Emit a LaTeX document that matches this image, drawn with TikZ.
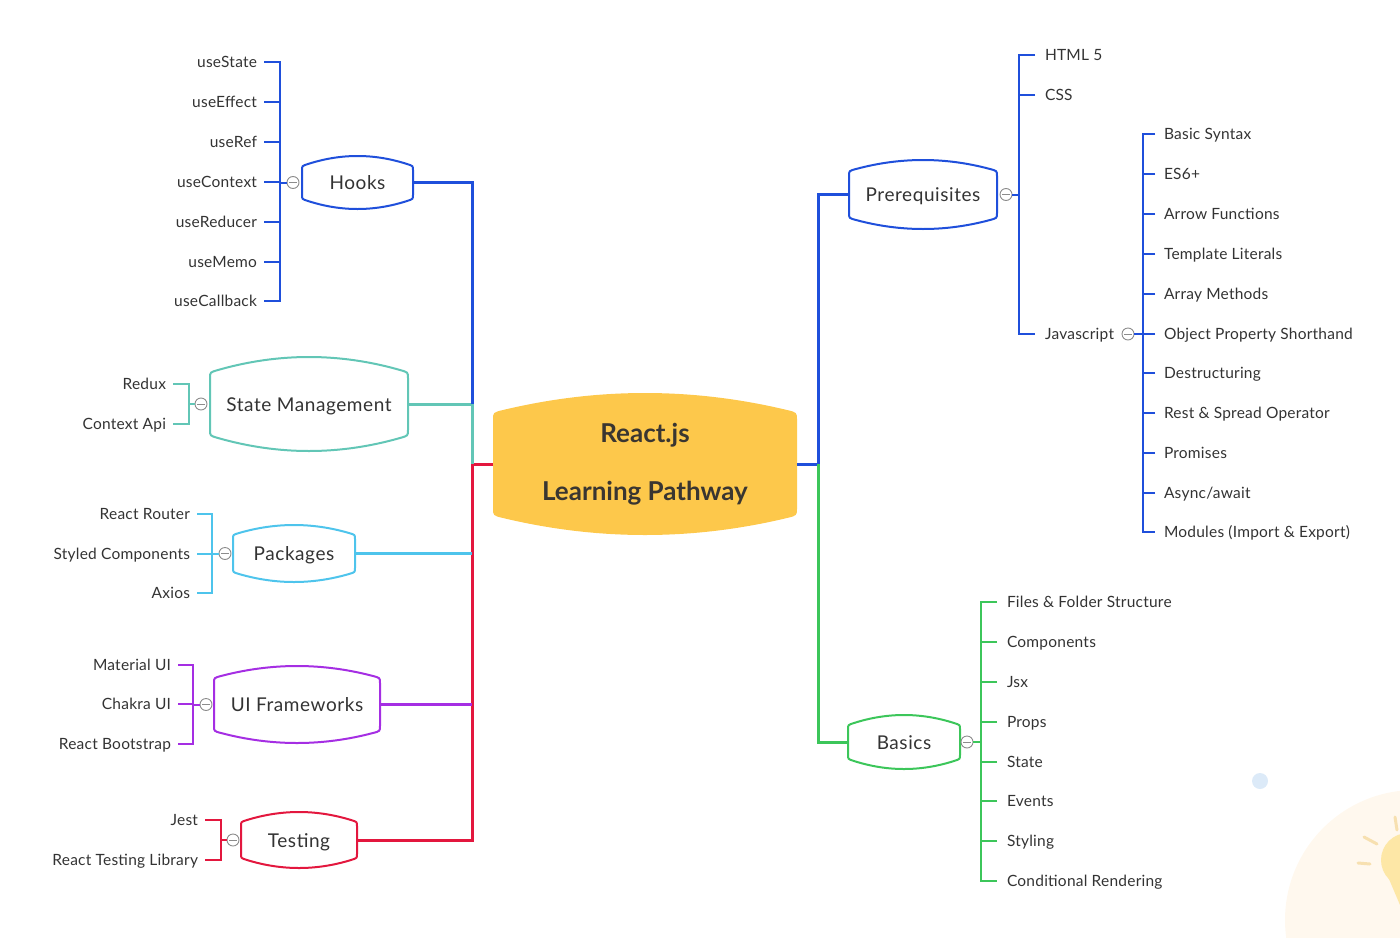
\documentclass[tikz,border=0pt]{standalone}
\usepackage{fontspec}
\setmainfont{Lato}
\usetikzlibrary{calc,backgrounds}
\definecolor{cblue}{HTML}{1F4FDB}
\definecolor{cteal}{HTML}{62C6B6}
\definecolor{csky}{HTML}{4EC4EC}
\definecolor{cpurple}{HTML}{A52EE3}
\definecolor{cred}{HTML}{E3173E}
\definecolor{cgreen}{HTML}{3CC65A}
\definecolor{cyellow}{HTML}{FDC84B}
\definecolor{txt}{HTML}{333333}
\definecolor{ctxt}{HTML}{3A3631}
\definecolor{collgray}{HTML}{8C8C8C}
\definecolor{decoC}{HTML}{FFF8EE}
\definecolor{bulbC}{HTML}{FDE7A6}
\definecolor{rayC}{HTML}{F7E0B0}
\definecolor{dotC}{HTML}{DCEAF8}
\newcommand\myleaffont{\fontsize{15.5}{18}\selectfont\addfontfeatures{LetterSpace=1.5}}
\newcommand\mytopicfont{\fontsize{19}{22}\selectfont\addfontfeatures{LetterSpace=3}}
\newcommand\mycenterfont{\fontsize{26}{58}\selectfont\bfseries}
\newcommand\bulgeshape[4]{%
 \path[#2] let \p1=(#1.north west), \p2=(#1.south east),
   \n1={4*#3/((\x2-\x1)/1pt-2*#4)} in
  (\x1,{\y1-#3pt-#4pt}) -- (\x1,{\y2+#3pt+#4pt})
  .. controls (\x1,{\y2+#3pt+#4pt*\n1}) .. ({\x1+#4pt},{\y2+#3pt})
  .. controls ({\x1+#4pt+(\x2-\x1-2*#4pt)/3},{\y2-#3pt/3}) and ({\x2-#4pt-(\x2-\x1-2*#4pt)/3},{\y2-#3pt/3}) .. ({\x2-#4pt},{\y2+#3pt})
  .. controls (\x2,{\y2+#3pt+#4pt*\n1}) .. (\x2,{\y2+#3pt+#4pt})
  -- (\x2,{\y1-#3pt-#4pt})
  .. controls (\x2,{\y1-#3pt-#4pt*\n1}) .. ({\x2-#4pt},{\y1-#3pt})
  .. controls ({\x2-#4pt-(\x2-\x1-2*#4pt)/3},{\y1+#3pt/3}) and ({\x1+#4pt+(\x2-\x1-2*#4pt)/3},{\y1+#3pt/3}) .. ({\x1+#4pt},{\y1-#3pt})
  .. controls (\x1,{\y1-#3pt-#4pt*\n1}) .. cycle;}
\begin{document}
\begin{tikzpicture}[x=1pt,y=-1pt,
  lw/.style={line width=3pt},
  bl/.style={line width=2pt},
  outl/.style={draw=#1, line width=2pt},
  leafL/.style={anchor=east, inner sep=0pt, outer xsep=7pt, outer ysep=0pt, font=\myleaffont, text=txt, text height=11pt, text depth=0pt},
  leafR/.style={anchor=west, inner sep=0pt, outer xsep=10pt, outer ysep=0pt, font=\myleaffont, text=txt, text height=11pt, text depth=0pt},
  topic/.style={inner sep=0pt, outer sep=0pt, font=\mytopicfont, text=txt, text height=14pt, text depth=0pt},
  coll/.style={circle, draw=collgray, fill=white, minimum size=12pt, inner sep=0pt, line width=0.9pt,
    path picture={\draw[collgray, line width=0.9pt] ([xshift=-4pt]path picture bounding box.center) -- ([xshift=4pt]path picture bounding box.center);}}
]
\useasboundingbox (0,0) rectangle (1400,937);
% decorations
\fill[decoC] (1415,920) circle (130pt);
\fill[dotC] (1260,781) circle (8pt);
\fill[bulbC] (1408,860) circle (27pt);
\fill[bulbC] (1386,872) -- (1400,905) -- (1400,860) -- cycle;
\draw[rayC, line width=3pt, line cap=round] (1364,837) -- (1377,844);
\draw[rayC, line width=3pt, line cap=round] (1358,863) -- (1370,864);
\draw[rayC, line width=3pt, line cap=round] (1395,817) -- (1397,830);

% central node and topics
\node[inner sep=0pt, outer sep=0pt, minimum width=304pt, minimum height=142pt, align=center, font=\mycenterfont, text=ctxt] (c) at (645,464) {React.js\\Learning Pathway};
\begin{pgfonlayer}{background}
\bulgeshape{c}{fill=cyellow}{17}{10}
\end{pgfonlayer}

\node[topic, minimum width=111pt, minimum height=53pt] (hooks) at (357.5,182.5) {Hooks};
\node[topic, minimum width=198pt, minimum height=94pt] (sm) at (309,404) {State Management};
\node[topic, minimum width=122pt, minimum height=57pt] (pkg) at (294,553.5) {Packages};
\node[topic, minimum width=166pt, minimum height=77pt] (ui) at (297,704.5) {UI Frameworks};
\node[topic, minimum width=116pt, minimum height=56pt] (test) at (299,840) {Testing};
\node[topic, minimum width=148pt, minimum height=69pt] (pre) at (923,194.5) {Prerequisites};
\node[topic, minimum width=112pt, minimum height=54pt] (bas) at (904,742) {Basics};

\bulgeshape{hooks}{outl=cblue}{8}{6}
\bulgeshape{sm}{outl=cteal}{13}{8}
\bulgeshape{pkg}{outl=csky}{8}{6}
\bulgeshape{ui}{outl=cpurple}{10}{7}
\bulgeshape{test}{outl=cred}{8}{6}
\bulgeshape{pre}{outl=cblue}{9}{7}
\bulgeshape{bas}{outl=cgreen}{8}{6}

% trunk connectors
\coordinate (tL) at (472,464);
\coordinate (tR) at (818,464);
\draw[lw, cred] (c.west) -- (tL) -- (tL |- test.east) -- (test.east);
\draw[lw, cteal] (tL) -- (tL |- sm.east) -- (sm.east);
\draw[lw, cblue] (tL |- sm.east) -- (tL |- hooks.east) -- (hooks.east);
\draw[lw, csky] (pkg.east) -- (pkg.east -| tL);
\draw[lw, cpurple] (ui.east) -- (ui.east -| tL);
\draw[lw, cblue] (c.east) -- (tR) -- (tR |- pre.west) -- (pre.west);
\draw[lw, cgreen] (tR) -- (tR |- bas.west) -- (bas.west);

% Hooks group
\coordinate (hv) at (280,182.5);
\node[leafL] (h1) at (264,62) {useState};
\node[leafL] (h2) at (264,102) {useEffect};
\node[leafL] (h3) at (264,142) {useRef};
\node[leafL] (h4) at (264,182) {useContext};
\node[leafL] (h5) at (264,222) {useReducer};
\node[leafL] (h6) at (264,262) {useMemo};
\node[leafL] (h7) at (264,301) {useCallback};
\draw[bl, cblue] (h1.east) -- (h1.east -| hv) -- (h7.east -| hv) -- (h7.east);
\foreach \n in {h2,h3,h4,h5,h6} \draw[bl, cblue] (\n.east) -- (\n.east -| hv);
\node[coll] (hc) at (293,182.5) {};
\draw[bl, cblue] (hc.west) -- (hv);

% State management group
\coordinate (sv) at (189,404);
\node[leafL] (s1) at (173,384) {Redux};
\node[leafL] (s2) at (173,424) {Context Api};
\draw[bl, cteal] (s1.east) -- (s1.east -| sv) -- (s2.east -| sv) -- (s2.east);
\node[coll] (sc) at (201,404) {};
\draw[bl, cteal] (sc.west) -- (sv);

% Packages group
\coordinate (pv) at (212,553.5);
\node[leafL] (k1) at (197,514) {React Router};
\node[leafL] (k2) at (197,554) {Styled Components};
\node[leafL] (k3) at (197,593) {Axios};
\draw[bl, csky] (k1.east) -- (k1.east -| pv) -- (k3.east -| pv) -- (k3.east);
\draw[bl, csky] (k2.east) -- (k2.east -| pv);
\node[coll] (kc) at (225,553.5) {};
\draw[bl, csky] (kc.west) -- (pv);

% UI group
\coordinate (uv) at (193,704.5);
\node[leafL] (u1) at (178,665) {Material UI};
\node[leafL] (u2) at (178,704) {Chakra UI};
\node[leafL] (u3) at (178,744) {React Bootstrap};
\draw[bl, cpurple] (u1.east) -- (u1.east -| uv) -- (u3.east -| uv) -- (u3.east);
\draw[bl, cpurple] (u2.east) -- (u2.east -| uv);
\node[coll] (uc) at (206,704.5) {};
\draw[bl, cpurple] (uc.west) -- (uv);

% Testing group
\coordinate (tv) at (221,840);
\node[leafL] (t1) at (205,820) {Jest};
\node[leafL] (t2) at (205,860) {React Testing Library};
\draw[bl, cred] (t1.east) -- (t1.east -| tv) -- (t2.east -| tv) -- (t2.east);
\node[coll] (tc) at (233,840) {};
\draw[bl, cred] (tc.west) -- (tv);

% Prerequisites group
\coordinate (rv) at (1019,194.5);
\node[leafR] (r1) at (1035,55) {HTML 5};
\node[leafR] (r2) at (1035,95) {CSS};
\node[leafR] (r3) at (1035,334) {Javascript};
\draw[bl, cblue] (r1.west) -- (r1.west -| rv) -- (r3.west -| rv) -- (r3.west);
\draw[bl, cblue] (r2.west) -- (r2.west -| rv);
\node[coll] (rc) at (1006,194.5) {};
\draw[bl, cblue] (rc.east) -- (rv);

% Javascript group
\coordinate (jv) at (1143,334);
\node[leafR, outer xsep=9pt] (j1) at (1155,134) {Basic Syntax};
\node[leafR, outer xsep=9pt] (j2) at (1155,174) {ES6+};
\node[leafR, outer xsep=9pt] (j3) at (1155,214) {Arrow Functions};
\node[leafR, outer xsep=9pt] (j4) at (1155,254) {Template Literals};
\node[leafR, outer xsep=9pt] (j5) at (1155,294) {Array Methods};
\node[leafR, outer xsep=9pt] (j6) at (1155,334) {Object Property Shorthand};
\node[leafR, outer xsep=9pt] (j7) at (1155,373) {Destructuring};
\node[leafR, outer xsep=9pt] (j8) at (1155,413) {Rest \& Spread Operator};
\node[leafR, outer xsep=9pt] (j9) at (1155,453) {Promises};
\node[leafR, outer xsep=9pt] (j10) at (1155,493) {Async/await};
\node[leafR, outer xsep=9pt] (j11) at (1155,532) {Modules (Import \& Export)};
\draw[bl, cblue] (j1.west) -- (j1.west -| jv) -- (j11.west -| jv) -- (j11.west);
\foreach \n in {j2,j3,j4,j5,j6,j7,j8,j9,j10} \draw[bl, cblue] (\n.west) -- (\n.west -| jv);
\node[coll] (jc) at (1128,334) {};
\draw[bl, cblue] (jc.east) -- (jv);

% Basics group
\coordinate (bv) at (981,742);
\node[leafR] (b1) at (997,602) {Files \& Folder Structure};
\node[leafR] (b2) at (997,642) {Components};
\node[leafR] (b3) at (997,682) {Jsx};
\node[leafR] (b4) at (997,722) {Props};
\node[leafR] (b5) at (997,762) {State};
\node[leafR] (b6) at (997,801) {Events};
\node[leafR] (b7) at (997,841) {Styling};
\node[leafR] (b8) at (997,881) {Conditional Rendering};
\draw[bl, cgreen] (b1.west) -- (b1.west -| bv) -- (b8.west -| bv) -- (b8.west);
\foreach \n in {b2,b3,b4,b5,b6,b7} \draw[bl, cgreen] (\n.west) -- (\n.west -| bv);
\node[coll] (bc) at (967,742) {};
\draw[bl, cgreen] (bc.east) -- (bv);
\end{tikzpicture}
\end{document}
